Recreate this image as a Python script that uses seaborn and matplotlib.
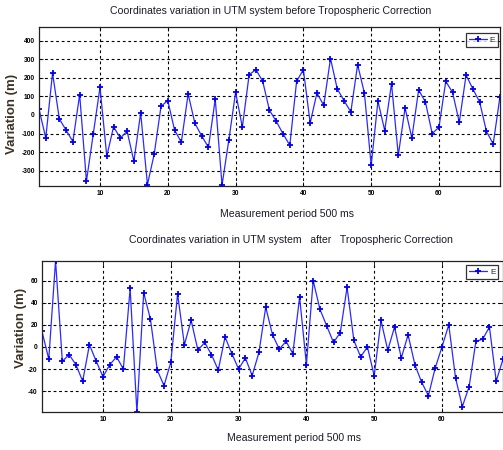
import numpy as np
import pandas as pd
import matplotlib
matplotlib.use("Agg")
import matplotlib.pyplot as plt
import seaborn as sns

sns.set_theme(style="white")
plt.rcParams['font.family'] = ['Liberation Sans Narrow', 'Liberation Sans', 'DejaVu Sans']

# measurement index 1..69
epoch = list(range(1, 70))

# E variation before tropospheric correction (m)
before_e = [32, -124, 226, -21, -82, -143, 110, -357, -104, 149,
            -222, -64, -124, -88, -249, 11, -375, -210, 47, 77,
            -81, -147, 113, -45, -113, -174, 86, -378, -136, 122,
            -65, 217, 244, 181, 25, -34, -102, -163, 181, 244,
            -43, 118, 52, 304, 140, 77, 16, 271, 118, -271,
            74, -84, 169, -217, 38, -124, 135, 70, -100, -66,
            181, 122, -39, 215, 140, 70, -88, -156, 99]

# E variation after tropospheric correction (m)
after_e = [14, -11, 78, -13, -7, -16, -31, 2, -13, -27,
           -16, -9, -20, 53, -59, 49, 25, -21, -35, -14,
           48, 2, 24, -3, 4, -7, -21, 9, -6, -20,
           -10, -26, -5, 36, 11, -2, 5, -6, 45, -16,
           60, 34, 19, 4, 13, 54, 6, -9, 0, -26,
           24, -3, 18, -10, 11, -16, -32, -44, -19, 0,
           20, -28, -54, -36, 5, 7, 18, -31, -11]

top_yticks = [-300, -200, -100, 0, 100, 200, 300, 400]
bot_yticks = [-40, -20, 0, 20, 40, 60]
xticks = [10, 20, 30, 40, 50, 60]

df = pd.DataFrame({'epoch': epoch, 'before': before_e, 'after': after_e})

fig = plt.figure(figsize=(5.03, 4.5), dpi=100)
ax1 = fig.add_axes([0.0775, 0.5873, 0.9165, 0.352])
ax2 = fig.add_axes([0.0835, 0.0851, 0.9165, 0.3356])

title_col = '#1b1b2a'
label_col = '#3d3325'


def style_axis(ax, yticks, ylim, legend_anchor):
    ax.set_xlim(1, 69)
    ax.set_ylim(*ylim)
    ax.set_xticks(xticks)
    ax.set_yticks(yticks)
    ax.set_xticklabels([str(t) for t in xticks], fontsize=4.8, fontweight='bold')
    ax.set_yticklabels([str(t) for t in yticks], fontsize=4.8, fontweight='bold')
    ax.tick_params(direction='in', length=3, width=0.6, pad=3, top=True, right=True,
                   bottom=True, left=True, colors='black')
    ax.grid(True, color='black', linestyle=(0, (2.5, 2.5)), linewidth=0.8)
    for sp in ax.spines.values():
        sp.set_color('#222222')
        sp.set_linewidth(0.9)
    ax.set_ylabel("Variation (m)", fontsize=9.5, fontweight='bold', color=label_col,
                  family=['Liberation Sans', 'DejaVu Sans'])
    ax.set_xlabel("Measurement period 500 ms", fontsize=7.6, color=title_col)
    leg = ax.legend(loc='upper right', bbox_to_anchor=legend_anchor, borderaxespad=0,
                    fontsize=6, frameon=True, fancybox=False, handlelength=2.2,
                    handletextpad=0.3, borderpad=0.35, labelspacing=0.2)
    leg.get_frame().set_edgecolor('black')
    leg.get_frame().set_linewidth(0.9)


line_kw = dict(color='#2a2aff', linewidth=0.9, marker='+', markersize=4,
               markeredgewidth=1.3, markeredgecolor='#0000ee', label='E')

sns.lineplot(data=df, x='epoch', y='before', ax=ax1, **line_kw)
sns.lineplot(data=df, x='epoch', y='after', ax=ax2, **line_kw)

style_axis(ax1, top_yticks, (-381, 472), (0.996, 0.962))
style_axis(ax2, bot_yticks, (-58.6, 78), (0.99, 0.97))

ax1.yaxis.set_label_coords(-0.0455, 0.45)
ax2.yaxis.set_label_coords(-0.0325, 0.557)
ax1.xaxis.set_label_coords(0.538, -0.147)
ax2.xaxis.set_label_coords(0.546, -0.141)

fig.text(271 / 503, 1 - 10.7 / 450,
         "Coordinates variation in UTM system before Tropospheric Correction",
         ha='center', va='center', fontsize=7.6, color=title_col)
fig.text(291 / 503, 1 - 240 / 450,
         "Coordinates variation in UTM system   after   Tropospheric Correction",
         ha='center', va='center', fontsize=7.6, color=title_col)

fig.savefig("out.png", dpi=100)
